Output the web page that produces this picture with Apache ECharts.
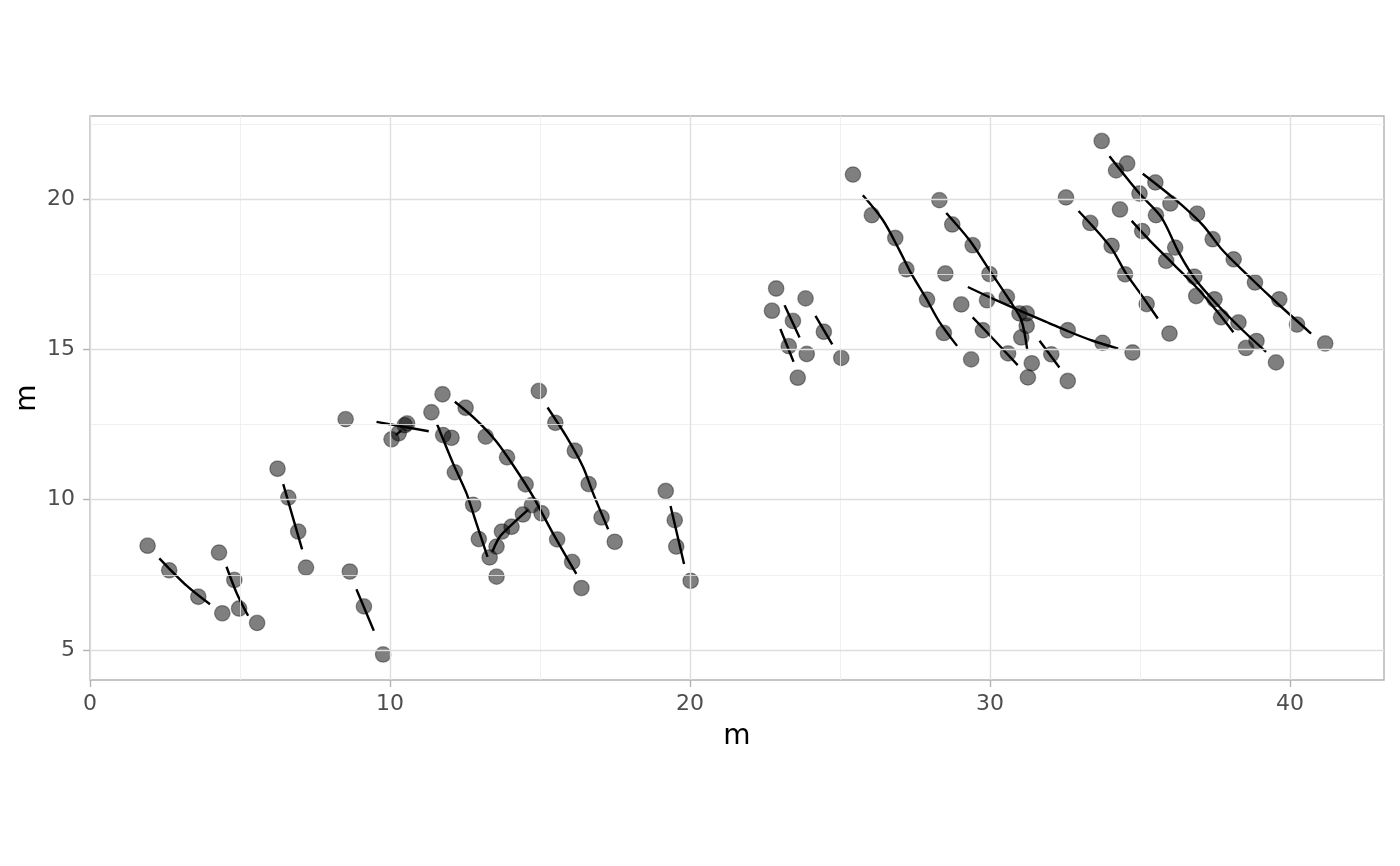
<!DOCTYPE html>
<html>
<head>
<meta charset="utf-8">
<script src="https://cdn.jsdelivr.net/npm/echarts@6/dist/echarts.min.js"></script>
<style>html,body{margin:0;padding:0;background:#fff;}#chart{width:1400px;height:866px;}</style>
</head>
<body>
<div id="chart"></div>
<script>
const ptsX = [1.92,2.64,3.61,4.30,4.41,4.81,4.97,5.57,6.25,6.61,6.94,7.20,8.52,8.66,9.13,9.77,10.05,10.29,10.49,10.57,11.38,11.75,11.77,12.05,12.16,12.52,12.77,12.96,13.19,13.32,13.55,13.55,13.73,13.90,14.05,14.43,14.52,14.73,15.05,14.96,15.51,15.57,16.07,16.16,16.38,16.62,17.05,17.49,19.19,19.49,19.54,20.02,22.73,22.87,23.29,23.43,23.59,23.85,23.89,24.46,25.04,25.43,26.06,26.84,27.21,27.90,28.46,28.31,28.74,29.42,28.51,29.98,29.04,29.90,30.56,29.37,29.76,30.60,30.98,31.22,31.22,31.04,31.39,31.26,32.04,32.59,32.59,33.75,32.53,33.34,34.05,34.33,34.50,33.72,34.20,34.57,34.98,35.51,36.01,35.53,35.07,36.90,37.42,36.17,35.87,38.12,36.81,38.83,36.87,37.48,39.64,35.22,37.70,38.28,40.23,35.98,38.88,38.53,41.17,34.75,39.53];
const ptsY = [8.47,7.65,6.77,8.24,6.22,7.33,6.38,5.90,11.03,10.07,8.94,7.74,12.68,7.61,6.45,4.85,12.01,12.21,12.48,12.54,12.91,13.51,12.15,12.06,10.91,13.06,9.83,8.69,12.10,8.08,8.44,7.44,8.94,11.41,9.10,9.51,10.51,9.82,9.55,13.62,12.56,8.68,7.93,11.63,7.06,10.52,9.41,8.60,10.29,9.32,8.44,7.30,16.29,17.03,15.11,15.95,14.06,16.70,14.85,15.59,14.72,20.82,19.47,18.71,17.67,16.66,15.55,19.97,19.16,18.47,17.53,17.51,16.50,16.64,16.75,14.67,15.64,14.87,16.20,16.20,15.79,15.40,14.54,14.07,14.84,15.64,13.95,15.22,20.06,19.21,18.45,19.66,17.50,21.94,20.96,21.19,20.19,20.56,19.86,19.47,18.94,19.52,18.67,18.39,17.95,18.00,17.42,17.23,16.78,16.67,16.67,16.51,16.07,15.90,15.83,15.53,15.28,15.05,15.20,14.90,14.57];

const line1 = [[2.31,8.05],[3.22,7.14],[4.00,6.52]];
const line2 = [[4.55,7.77],[4.89,6.89],[5.27,6.14]];
const line3 = [[6.44,10.52],[7.07,8.35]];
const line4 = [[8.88,7.02],[9.46,5.64]];
const line5 = [[9.55,12.59],[11.29,12.28]];
const line5b = [[10.19,12.15],[10.38,12.31]];
const line6 = [[11.57,12.51],[12.10,11.21],[12.55,10.21],[12.88,9.21],[13.25,8.10]];
const line7 = [[12.16,13.26],[12.88,12.65],[13.55,11.93],[14.21,10.99],[14.77,10.10],[15.43,8.88],[16.21,7.53]];
const line8 = [[13.41,8.27],[13.66,8.77],[14.10,9.21],[14.60,9.66]];
const line9 = [[15.25,13.07],[15.88,12.10],[16.43,11.10],[16.77,10.21],[17.27,9.02]];
const line10 = [[19.35,9.79],[19.80,7.86]];
const line11 = [[23.15,16.47],[23.65,15.40]];
const line12 = [[23.01,15.68],[23.45,14.59]];
const line13 = [[24.18,16.12],[24.74,15.17]];
const line14 = [[25.76,20.13],[26.43,19.30],[26.98,18.30],[27.37,17.53],[27.87,16.70],[28.31,15.92],[28.90,15.12]];
const line15 = [[28.54,19.54],[29.31,18.64],[29.98,17.64],[30.65,16.64],[31.04,15.98],[31.24,14.98]];
const line16 = [[29.26,17.08],[30.20,16.64],[31.09,16.25],[31.87,15.92],[32.64,15.59],[33.42,15.29],[34.27,15.03]];
const line17 = [[29.42,16.07],[30.20,15.25],[30.92,14.48]];
const line18 = [[31.65,15.29],[32.31,14.40]];
const line19 = [[32.95,19.61],[33.64,18.86],[34.09,18.30],[34.53,17.53],[35.09,16.75],[35.59,16.03]];
const line20 = [[33.98,21.43],[34.98,20.19],[35.70,19.41],[36.31,18.19],[36.86,17.31],[37.64,16.42],[38.42,15.64],[39.20,14.92]];
const line21 = [[34.72,19.28],[35.31,18.64],[36.09,17.86],[36.87,17.08],[37.53,16.31],[38.11,15.57]];
const line22 = [[35.09,20.85],[36.20,19.97],[37.09,19.14],[37.75,18.30],[38.64,17.42],[39.53,16.58],[40.70,15.53]];

const xTicks = [0, 10, 20, 30, 40];
const yTicks = [5, 10, 15, 20];
const xMinor = [5, 15, 25, 35];
const yMinor = [7.5, 12.5, 17.5, 22.5];
const xRange = [0, 43.13];
const yRange = [4.0, 22.77];

const lines = [line1,line2,line3,line4,line5,line5b,line6,line7,line8,line9,line10,line11,line12,line13,line14,line15,line16,line17,line18,line19,line20,line21,line22];

const FONT = 'DejaVu Sans';
const chart = echarts.init(document.getElementById('chart'), null, {renderer: 'canvas'});

const gridMarks = [];
xMinor.forEach(v => gridMarks.push({xAxis: v, lineStyle: {color: '#ececec', width: 0.8}}));
yMinor.forEach(v => gridMarks.push({yAxis: v, lineStyle: {color: '#ececec', width: 0.8}}));
xTicks.forEach(v => gridMarks.push({xAxis: v, lineStyle: {color: '#dedede', width: 1.4}}));
yTicks.forEach(v => gridMarks.push({yAxis: v, lineStyle: {color: '#dedede', width: 1.4}}));

const series = [{
  type: 'line', data: [], z: 1, silent: true,
  markLine: {silent: true, symbol: ['none','none'], label: {show: false}, animation: false,
    lineStyle: {type: 'solid'}, data: gridMarks}
}, {
  type: 'scatter', z: 3, silent: true,
  data: ptsX.map((x, i) => [x, ptsY[i]]),
  symbolSize: 15.5,
  itemStyle: {color: 'rgba(0,0,0,0.5)', borderColor: 'rgba(0,0,0,0.35)', borderWidth: 1.3, opacity: 1}
}];
lines.forEach(l => series.push({
  type: 'line', z: 4, silent: true, data: l, symbol: 'none', smooth: 0.3,
  lineStyle: {color: '#000', width: 2.4}
}));

chart.setOption({
  animation: false,
  backgroundColor: '#fff',
  grid: {left: 90, right: 16, top: 116, bottom: 186, show: true, borderColor: '#b3b3b3', borderWidth: 1.4, backgroundColor: 'transparent'},
  xAxis: {
    type: 'value', min: xRange[0], max: xRange[1], interval: 10,
    name: 'm', nameLocation: 'middle', nameGap: 43, nameMoveOverlap: false,
    nameTextStyle: {fontFamily: FONT, fontSize: 28, color: '#000'},
    axisLine: {show: false},
    axisTick: {show: true, length: 7, customValues: xTicks, lineStyle: {color: '#b3b3b3', width: 1.4}},
    axisLabel: {customValues: xTicks, margin: 13, fontFamily: FONT, fontSize: 22, color: '#4d4d4d',
      formatter: v => (v % 10 === 0 ? String(v) : '')},
    splitLine: {show: false}
  },
  yAxis: {
    type: 'value', min: yRange[0], max: yRange[1], minInterval: 5, maxInterval: 5,
    name: 'm', nameLocation: 'middle', nameGap: 48, nameRotate: 90, nameMoveOverlap: false,
    nameTextStyle: {fontFamily: FONT, fontSize: 28, color: '#000'},
    axisLine: {show: false},
    axisTick: {show: true, length: 7, customValues: yTicks, lineStyle: {color: '#b3b3b3', width: 1.4}},
    axisLabel: {customValues: yTicks, margin: 15, fontFamily: FONT, fontSize: 22, color: '#4d4d4d',
      formatter: v => (v % 5 === 0 ? String(v) : '')},
    splitLine: {show: false}
  },
  series: series
});
</script>
</body>
</html>
